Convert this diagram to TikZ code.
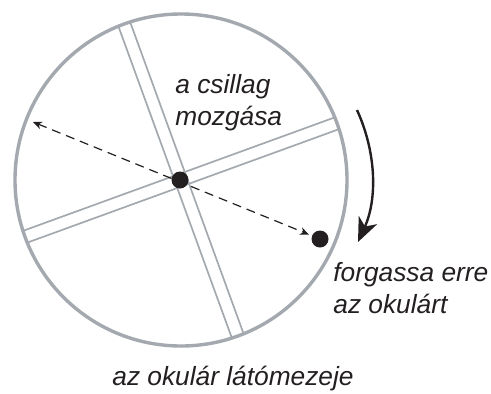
\documentclass[tikz,border=0pt]{standalone}
\usepackage{fontspec}
\setmainfont{Liberation Sans}
\usetikzlibrary{arrows.meta}
\definecolor{rim}{HTML}{A3A9AF}
\definecolor{ink}{HTML}{231F20}
\begin{document}
\begin{tikzpicture}[x=0.5pt,y=0.5pt,
  lbl/.style={font=\fontsize{13.15}{15.75}\selectfont\itshape, text=ink, inner sep=0, anchor=base west, align=left},
  hair/.style={draw=rim, line width=0.85pt},
  rimline/.style={draw=rim, line width=1.7pt},
  stardot/.style={circle, fill=ink, minimum size=8.5pt, inner sep=0},
  motion/.style={draw=ink, dash pattern=on 4.5pt off 3pt, line width=0.6pt, {Stealth[length=4.5pt,width=3.8pt]}-{Stealth[length=4.5pt,width=3.8pt]}},
  turn/.style={draw=ink, line width=1.2pt, -{Stealth[length=12pt,width=10pt,inset=3.5pt]}}
]
\useasboundingbox (0,0) rectangle (491,393);
\coordinate (c) at (181,213);
\begin{scope}[shift={(c)}, rotate=20]
  \draw[hair] (-165.9,6.25) -- (165.9,6.25);
  \draw[hair] (-165.9,-6.25) -- (165.9,-6.25);
  \draw[hair] (6.25,-165.9) -- (6.25,165.9);
  \draw[hair] (-6.25,-165.9) -- (-6.25,165.9);
\end{scope}
\draw[rimline] (c) circle[radius=166];
\node[stardot] (star) at (180,213) {};
\node[stardot] (star2) at (320,154) {};
\coordinate (west) at (33,271);
\draw[motion, shorten >=1.5pt] (west) -- (star2);
\coordinate (rs) at (357,283);
\coordinate (re) at (358,151);
\draw[turn] (rs) .. controls (377,239) and (377,193) .. (re);
\node[lbl] (mot) at (175,268) {a csillag\\mozgása};
\node[lbl] (rot) at (333,80) {forgassa erre\\az okulárt};
\node[lbl] (fov) at (112,8) {az okulár látómezeje};
\end{tikzpicture}
\end{document}
